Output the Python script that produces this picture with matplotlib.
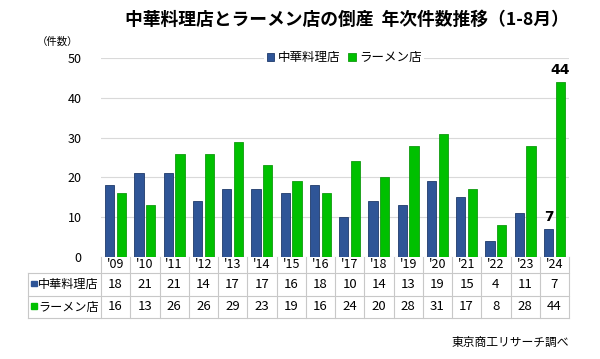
import matplotlib.pyplot as plt
from matplotlib.lines import Line2D
from matplotlib.patches import Rectangle
import numpy as np

plt.rcParams['font.family'] = ['Noto Sans CJK JP', 'DejaVu Sans']

years = ["'09", "'10", "'11", "'12", "'13", "'14", "'15", "'16",
         "'17", "'18", "'19", "'20", "'21", "'22", "'23", "'24"]
chuka = [18, 21, 21, 14, 17, 17, 16, 18, 10, 14, 13, 19, 15, 4, 11, 7]
ramen = [16, 13, 26, 26, 29, 23, 19, 16, 24, 20, 28, 31, 17, 8, 28, 44]
series_names = ['中華料理店', 'ラーメン店']

BLUE = '#2f5597'
BLUE_EDGE = '#1f3a6b'
GREEN = '#00c000'
GREEN_EDGE = '#119a11'
GRID = '#d9d9d9'
TABLE_LINE = '#c8c8c8'

W, H = 600, 359
fig = plt.figure(figsize=(W / 100, H / 100), dpi=100)

# plot area in pixels
left, right, top, bottom = 101, 569, 58, 257
ax = fig.add_axes([left / W, 1 - bottom / H, (right - left) / W, (bottom - top) / H])

x = np.arange(len(years))
bw = 0.31
off = 0.2
ax.bar(x - off, chuka, bw, color=BLUE, edgecolor=BLUE_EDGE, linewidth=0.6,
       label=series_names[0], zorder=3)
ax.bar(x + off, ramen, bw, color=GREEN, edgecolor=GREEN_EDGE, linewidth=0.6,
       label=series_names[1], zorder=3)

ax.set_xlim(-0.5, len(years) - 0.5)
ax.set_ylim(0, 50)
ax.set_yticks(range(0, 51, 10))
ax.tick_params(axis='y', length=0, labelsize=9, pad=14)
ax.set_xticks(x)
ax.set_xticklabels(years, fontsize=9)
ax.tick_params(axis='x', length=0, pad=1)
ax.grid(axis='y', color=GRID, linewidth=0.8, zorder=0)
for s in ax.spines.values():
    s.set_visible(False)

# labels on the last year
ax.text(x[-1] - off, chuka[-1] + 1.2, str(chuka[-1]), ha='center', va='bottom',
        fontsize=10, fontweight='bold', family='DejaVu Sans')
ax.text(x[-1] + off, ramen[-1] + 1.2, str(ramen[-1]), ha='center', va='bottom',
        fontsize=10, fontweight='bold', family='DejaVu Sans')

leg = ax.legend(loc='center', bbox_to_anchor=(0.52, 1.0), ncol=2, fontsize=9,
                frameon=True, framealpha=1, edgecolor='none', handlelength=0.6,
                handleheight=0.6, handletextpad=0.3, columnspacing=0.6,
                borderpad=0.2)

fig.text(0.578, 1 - 20 / H, '中華料理店とラーメン店の倒産  年次件数推移（1-8月）',
         ha='center', va='center', fontsize=12.8, fontweight='bold')
fig.text(58 / W, 1 - 42 / H, '（件数）', ha='center', va='center', fontsize=7.5)

# data table drawn in pixel coordinates
tab = fig.add_axes([0, 0, 1, 1], zorder=-1)
tab.set_xlim(0, W)
tab.set_ylim(H, 0)
tab.axis('off')

colw = (right - left) / len(years)
tleft = 28
row_top, row_mid, row_bot = 273, 296, 318
# horizontal lines
for yy in (row_top, row_mid, row_bot):
    tab.add_line(Line2D([tleft, right], [yy, yy], color=TABLE_LINE, lw=0.8))
# vertical lines
tab.add_line(Line2D([tleft, tleft], [row_top, row_bot], color=TABLE_LINE, lw=0.8))
for i in range(len(years) + 1):
    xx = left + i * colw
    tab.add_line(Line2D([xx, xx], [bottom, row_bot], color=TABLE_LINE, lw=0.8))

rows = [(chuka, BLUE, series_names[0]), (ramen, GREEN, series_names[1])]
for r, (vals, col, name) in enumerate(rows):
    yc = (row_top + row_mid) / 2 if r == 0 else (row_mid + row_bot) / 2
    tab.add_patch(Rectangle((31, yc - 4), 5.5, 5.5, color=col))
    tab.text(38, yc, name, ha='left', va='center', fontsize=8.7)
    for i, v in enumerate(vals):
        tab.text(left + (i + 0.5) * colw, yc, str(v), ha='center', va='center',
                 fontsize=9.5)

fig.text(right / W, 1 - 342 / H, '東京商工リサーチ調べ', ha='right', va='center',
         fontsize=8.5)

fig.savefig('out.png', dpi=100, facecolor='white')
